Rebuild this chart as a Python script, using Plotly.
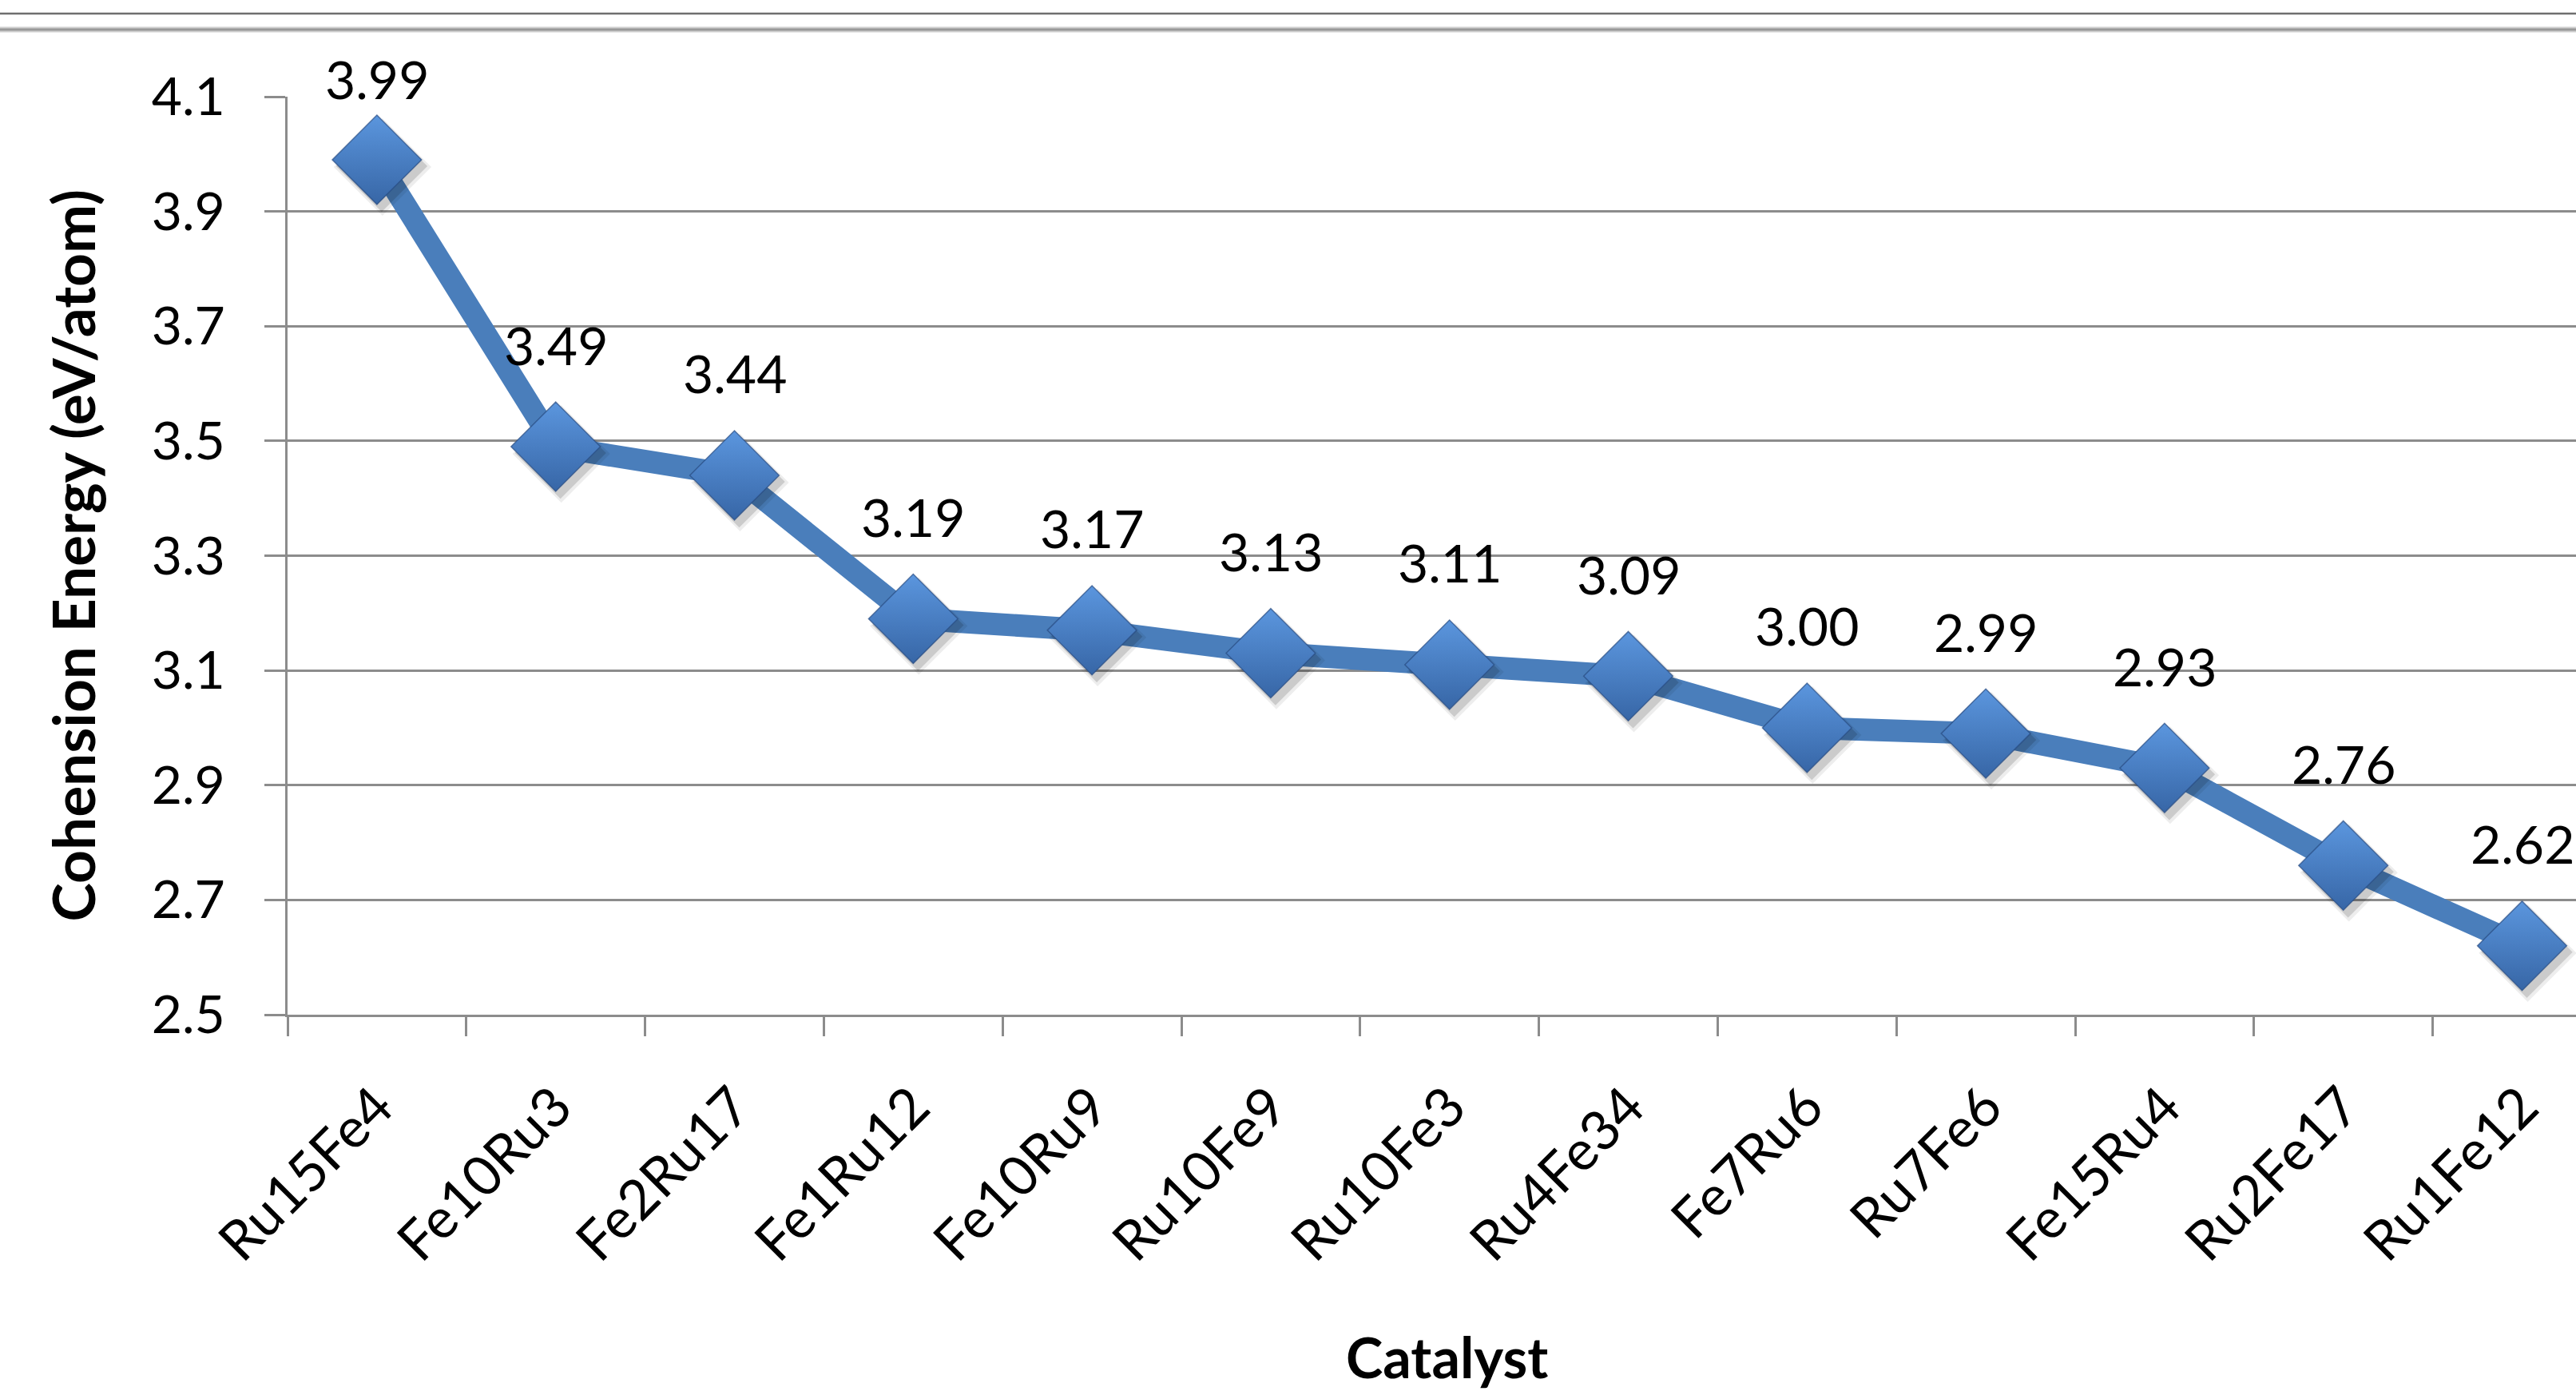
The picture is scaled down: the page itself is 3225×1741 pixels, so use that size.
import plotly.graph_objects as go

# Cohesion energy per atom for each Fe-Ru cluster
catalysts = ["Ru15Fe4", "Fe10Ru3", "Fe2Ru17", "Fe1Ru12", "Fe10Ru9", "Ru10Fe9",
             "Ru10Fe3", "Ru4Fe34", "Fe7Ru6", "Ru7Fe6", "Fe15Ru4", "Ru2Fe17", "Ru1Fe12"]
energy = [3.99, 3.49, 3.44, 3.19, 3.17, 3.13, 3.11, 3.09, 3.00, 2.99, 2.93, 2.76, 2.62]
y_tick_values = [2.5, 2.7, 2.9, 3.1, 3.3, 3.5, 3.7, 3.9, 4.1]

# Canvas / plot-area geometry (pixels)
W, H = 3225, 1741
LEFT, TOP, BOTTOM = 360, 121, 1270
CAT_PX = 223.8  # width of one category slot
Y_MIN, Y_MAX = y_tick_values[0], y_tick_values[-1]
PX_PER_UNIT = (BOTTOM - TOP) / (Y_MAX - Y_MIN)

x_idx = list(range(len(catalysts)))
x_right = -0.5 + (W - LEFT) / CAT_PX

FONT = "Lato"
GRID = "#8C8C8C"
BLUE = "#4A7EBB"

fig = go.Figure()

# connecting line
fig.add_trace(go.Scatter(
    x=x_idx, y=energy, mode="lines",
    line=dict(color=BLUE, width=28),
    hoverinfo="skip", showlegend=False,
))

# soft drop shadow under the diamonds
for size, alpha, dxp, dyp in [(94, 0.07, 7, 9), (88, 0.14, 6, 8)]:
    fig.add_trace(go.Scatter(
        x=[i + dxp / CAT_PX for i in x_idx],
        y=[v - dyp / PX_PER_UNIT for v in energy],
        mode="markers",
        marker=dict(symbol="diamond", size=size, color=f"rgba(0,0,0,{alpha})",
                    line=dict(width=0)),
        hoverinfo="skip", showlegend=False,
    ))

# diamond markers
fig.add_trace(go.Scatter(
    x=x_idx, y=energy, mode="markers",
    marker=dict(symbol="diamond", size=86, color="#5B96DE",
                gradient=dict(type="vertical", color="#3766A6"),
                line=dict(color="rgba(40,75,130,0.7)", width=1.5)),
    showlegend=False,
))

# value labels above each point (kept inside the chart at the top)
annotations = []
for i, v in zip(x_idx, energy):
    dist_to_top = (Y_MAX - v) * PX_PER_UNIT
    shift = min(128, dist_to_top + 22)
    annotations.append(dict(
        x=i, y=v, xref="x", yref="y", text=f"{v:.2f}", showarrow=False,
        yshift=shift, xanchor="center", yanchor="middle",
        font=dict(family=FONT, size=66, color="black"),
    ))

plot_w = W - LEFT
plot_h = BOTTOM - TOP

# axis titles
annotations.append(dict(
    x=(90 - LEFT) / plot_w, y=0.5, xref="paper", yref="paper",
    text="<b>Cohension Energy (eV/atom)</b>", textangle=-90, showarrow=False,
    xanchor="center", yanchor="middle",
    font=dict(family=FONT, size=73, color="black"),
))
annotations.append(dict(
    x=(1812 - LEFT) / plot_w, y=(BOTTOM - 1698) / plot_h, xref="paper", yref="paper",
    text="<b>Catalyst</b>", showarrow=False, xanchor="center", yanchor="middle",
    font=dict(family=FONT, size=70, color="black"),
))

# double rule across the top of the page
def py(p):
    return (BOTTOM - p) / plot_h

shapes = [
    dict(type="line", xref="paper", yref="paper", x0=-LEFT / plot_w, x1=1.0,
         y0=py(17), y1=py(17), line=dict(color="#6E6E6E", width=2.5)),
    dict(type="line", xref="paper", yref="paper", x0=-LEFT / plot_w, x1=1.0,
         y0=py(37), y1=py(37), line=dict(color="#CFCFCF", width=7)),
    dict(type="line", xref="paper", yref="paper", x0=-LEFT / plot_w, x1=1.0,
         y0=py(37), y1=py(37), line=dict(color="#999999", width=3)),
]

fig.update_layout(
    width=W, height=H,
    margin=dict(l=LEFT, r=0, t=TOP, b=H - BOTTOM, pad=0),
    paper_bgcolor="white", plot_bgcolor="white",
    font=dict(family=FONT, color="black"),
    annotations=annotations, shapes=shapes,
    showlegend=False,
)

fig.update_xaxes(
    range=[-0.5, x_right], tickmode="array", tickvals=x_idx, ticktext=catalysts,
    tickangle=-45, ticks="", showgrid=False, zeroline=False,
    showline=True, linecolor=GRID, linewidth=3,
    tickfont=dict(family=FONT, size=69, color="black"),
    ticklabelstandoff=44,
    minor=dict(tickvals=[i - 0.5 for i in range(len(catalysts) + 1)],
               ticks="outside", ticklen=24, tickwidth=3, tickcolor=GRID,
               showgrid=False),
)

fig.update_yaxes(
    range=[Y_MIN, Y_MAX], tickmode="array", tickvals=y_tick_values,
    ticktext=[f"{t:.1f}" for t in y_tick_values],
    ticks="outside", ticklen=26, tickwidth=3, tickcolor=GRID,
    showgrid=True, gridcolor=GRID, gridwidth=3, zeroline=False,
    showline=True, linecolor=GRID, linewidth=3,
    tickfont=dict(family=FONT, size=66, color="black"),
    ticklabelstandoff=36,
)

fig.write_html("out.html")
